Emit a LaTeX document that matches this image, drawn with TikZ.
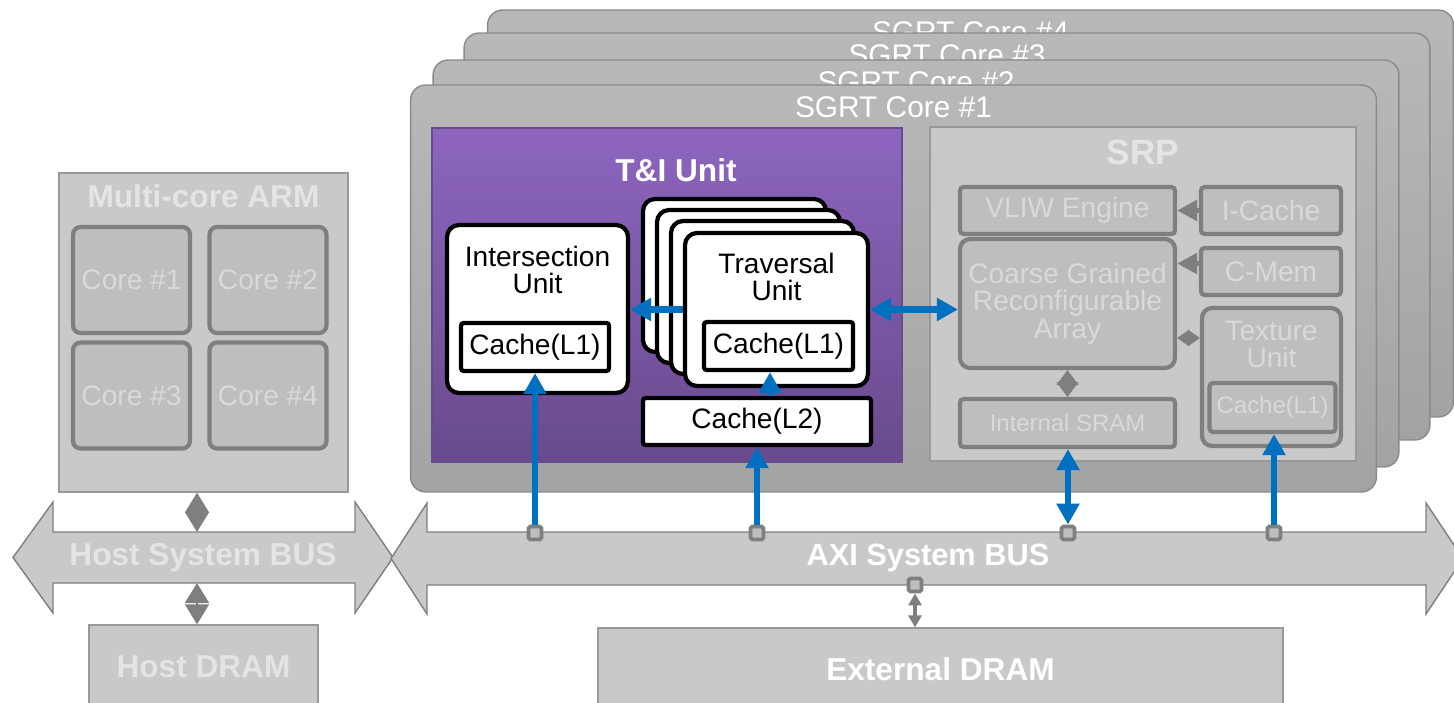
\documentclass[tikz,border=0pt]{standalone}
\usepackage{fontspec}
\setmainfont{Liberation Sans}
\usetikzlibrary{positioning,arrows.meta}

\definecolor{cardtop}{HTML}{B8B8B8}
\definecolor{coregray}{HTML}{A3A3A3}
\definecolor{coreedge}{HTML}{8A8A8A}
\definecolor{panelgray}{HTML}{C9C9C9}
\definecolor{boxgray}{HTML}{BEBEBE}
\definecolor{edgegray}{HTML}{7F7F7F}
\definecolor{fadetext}{HTML}{D9D9D9}
\definecolor{lighttext}{HTML}{E4E4E4}
\definecolor{tipurpletop}{HTML}{8D65BF}
\definecolor{tipurplebot}{HTML}{694A8D}
\definecolor{linkblue}{HTML}{0070C0}

\begin{document}
\begin{tikzpicture}[
    x=0.02cm, y=-0.02cm,
    card/.style={draw=coreedge, line width=0.8pt, top color=cardtop, bottom color=coregray,
      rounded corners=0.3cm, minimum width=19.32cm, minimum height=8.14cm},
    cardtitle/.style={text=white, inner sep=0, font=\fontsize{17}{20}\selectfont},
    tiunit/.style={draw=tipurplebot, line width=0.8pt, top color=tipurpletop, bottom color=tipurplebot,
      minimum width=9.4cm, minimum height=6.68cm},
    whitebox/.style={draw=black, fill=white, line width=2.4pt, rounded corners=0.24cm},
    cachebox/.style={draw=black, fill=white, line width=2.4pt, rounded corners=1.5pt, inner sep=0,
      minimum height=0.96cm, font=\fontsize{16}{19}\selectfont},
    unitlabel/.style={inner sep=0, align=center, font=\fontsize{16}{15.5}\selectfont},
    panel/.style={fill=panelgray, draw=edgegray!80, line width=0.8pt},
    srpbox/.style={draw=edgegray, fill=boxgray, line width=2.4pt, rounded corners=2pt, inner sep=0,
      text=fadetext, align=center, font=\fontsize{16}{15.5}\selectfont},
    armcore/.style={draw=edgegray, fill=boxgray, line width=2.4pt, rounded corners=0.15cm, inner sep=0,
      text=fadetext, minimum width=2.34cm, minimum height=2.12cm, font=\fontsize{16}{19}\selectfont},
    headtext/.style={inner sep=0, font=\bfseries\fontsize{18}{20}\selectfont},
    bus/.style={fill=panelgray, draw=edgegray, line width=0.8pt},
    port/.style={draw=edgegray, fill=boxgray, line width=2.2pt, minimum size=0.26cm, inner sep=0,
      rounded corners=1pt},
    bluearrow/.style={draw=linkblue, line width=3.6pt, -{Triangle[length=0.42cm,width=0.44cm]}},
    bluedouble/.style={bluearrow, {Triangle[length=0.42cm,width=0.44cm]}-{Triangle[length=0.42cm,width=0.44cm]}},
    graylink/.style={draw=edgegray, line width=3pt, -{Triangle[length=0.4cm,width=0.4cm]}},
    graystar/.style={draw=edgegray, line width=2pt, {Triangle[length=0.24cm,width=0.32cm]}-{Triangle[length=0.24cm,width=0.32cm]}},
    graydiamond/.style={draw=edgegray, line width=1pt, {Triangle[length=0.3cm,width=0.44cm]}-{Triangle[length=0.3cm,width=0.44cm]}},
    hostdiamond/.style={draw=edgegray, line width=1pt, {Triangle[length=0.4cm,width=0.48cm]}-{Triangle[length=0.4cm,width=0.48cm]}},
    graythin/.style={draw=edgegray, line width=2pt, {Triangle[length=0.24cm,width=0.26cm]}-{Triangle[length=0.24cm,width=0.26cm]}}
  ]
  \useasboundingbox (0,0) rectangle (1454,703);

  % stacked SGRT cores, back to front
  \foreach \cn/\cx/\cy in {4/970.5/213.5, 3/947/236.5, 2/916/263.5, 1/893.5/288.5} {
    \node[card] (core\cn) at (\cx,\cy) {};
    \node[cardtitle, below=0.24cm of core\cn.north] (ctitle\cn) {SGRT Core \#\cn};
  }

  % T&I unit
  \node[tiunit] (ti) at (667,295) {};
  \node[headtext, text=white] (tititle) at (676,170) {T\&I Unit};
  \node[whitebox, minimum width=3.62cm, minimum height=3.36cm] (isect) at (537.5,309) {};
  \node[unitlabel, below=0.46cm of isect.north] (isectlbl) {Intersection\\Unit};
  \node[cachebox, minimum width=2.96cm] (ic1) at (535,347) {Cache(L1)};
  \foreach \cn/\cx/\cy in {4/734.5/275.5, 3/748.5/286.5, 2/762.5/297.5, 1/776.5/309.5} {
    \node[whitebox, minimum width=3.66cm, minimum height=3.06cm] (trav\cn) at (\cx,\cy) {};
  }
  \node[unitlabel, below=0.44cm of trav1.north] (travlbl) {Traversal\\Unit};
  \node[cachebox, minimum width=2.98cm] (tc1) at (778.5,346) {Cache(L1)};
  \node[cachebox, minimum width=4.56cm, minimum height=0.94cm] (l2) at (757,421.5) {Cache(L2)};

  % SRP
  \node[panel, minimum width=8.52cm, minimum height=6.68cm] (srp) at (1143,294) {};
  \node[headtext, text=lighttext, font=\bfseries\fontsize{20}{22}\selectfont, below=0.26cm of srp.north] (srptitle) {SRP};
  \node[srpbox, minimum width=4.3cm, minimum height=0.94cm] (vliw) at (1067.5,210.5) {VLIW Engine};
  \node[srpbox, minimum width=2.8cm, minimum height=0.94cm] (icache) at (1271,210.5) {I-Cache};
  \node[srpbox, minimum width=2.8cm, minimum height=0.94cm] (cmem) at (1271,271.5) {C-Mem};
  \node[srpbox, rounded corners=0.2cm, minimum width=4.3cm, minimum height=2.58cm] (cgra) at (1067.5,303.5) {Coarse Grained\\Reconfigurable\\Array};
  \node[srpbox, rounded corners=0.2cm, minimum width=2.78cm, minimum height=2.76cm] (texture) at (1271.5,377) {};
  \node[unitlabel, text=fadetext, below=0.3cm of texture.north] (texlbl) {Texture\\Unit};
  \node[srpbox, minimum width=2.52cm, minimum height=0.98cm, font=\fontsize{13.6}{16}\selectfont] (txc) at (1272.5,407.5) {Cache(L1)};
  \node[srpbox, minimum width=4.3cm, minimum height=0.96cm, font=\fontsize{13.6}{16}\selectfont] (sram) at (1067.5,423) {Internal SRAM};

  % host side
  \node[panel, minimum width=5.78cm, minimum height=6.38cm] (arm) at (203.5,332.5) {};
  \node[headtext, text=lighttext, below=0.24cm of arm.north] (armtitle) {Multi-core ARM};
  \node[armcore] (acore1) at (131.5,280) {Core \#1};
  \node[armcore] (acore2) at (268,280) {Core \#2};
  \node[armcore] (acore3) at (131.5,395.5) {Core \#3};
  \node[armcore] (acore4) at (268,395.5) {Core \#4};
  \node[panel, headtext, text=lighttext, minimum width=4.58cm, minimum height=1.66cm] (hostdram) at (203.5,666.5) {Host DRAM};
  \node[panel, headtext, text=white, minimum width=13.7cm, minimum height=1.66cm] (extdram) at (940.5,669.5) {External DRAM};

  % buses
  \draw[bus] (13,557.5) -- (53,502) -- (53,532) -- (355,532) -- (355,502) -- (393,557.5)
    -- (355,613) -- (355,583) -- (53,583) -- (53,613) -- cycle;
  \draw[bus] (391,558.5) -- (427,503) -- (427,532) -- (1426,532) -- (1426,503) -- (1463,558.5)
    -- (1426,614) -- (1426,585) -- (427,585) -- (427,614) -- cycle;
  \node[headtext, text=lighttext] (hostbus) at (203,557.5) {Host System BUS};
  \node[headtext, text=white, font=\bfseries\fontsize{17.5}{20}\selectfont] (axibus) at (928,558) {AXI System BUS};
  \coordinate (hbtop) at (203,532);
  \coordinate (hbbot) at (203,583);

  % gray links
  \draw[graylink] (icache) -- (vliw);
  \draw[graylink] ([yshift=0.16cm]cmem.west) -- ([yshift=0.16cm]cmem.west -| cgra.east);
  \draw[graystar] ([yshift=0.78cm]texture.west) -- ([yshift=0.78cm]texture.west -| cgra.east);
  \draw[graydiamond] (cgra) -- (sram);
  \draw[hostdiamond] ([xshift=-0.13cm]arm.south) -- ([xshift=-0.13cm]arm.south |- hbtop);
  \draw[hostdiamond] ([xshift=-0.13cm]hostdram.north |- hbbot) -- ([xshift=-0.13cm]hostdram.north);

  % ports on the AXI bus
  \node[port] (p1) at (535,533) {};
  \node[port] (p2) at (757,533) {};
  \node[port] (p3) at (1068,533) {};
  \node[port] (p4) at (1274,533) {};
  \node[port] (p5) at (915,585) {};

  % blue links
  \draw[bluearrow] (trav1.west) -- (trav1.west -| isect.east);
  \draw[bluedouble] (trav1.east) -- (trav1.east -| cgra.west);
  \draw[bluearrow] (p1.north) -- (ic1.south);
  \draw[bluearrow] (p2.north) -- (l2.south);
  \draw[bluearrow] ([xshift=-0.17cm]tc1.south |- l2.north) -- ([xshift=-0.17cm]tc1.south);
  \draw[bluedouble] (p3.north) -- (p3.north |- sram.south);
  \draw[bluearrow] (p4.north) -- (p4.north |- txc.south);
  \draw[graythin] (p5.south) -- (p5.south |- extdram.north);
\end{tikzpicture}
\end{document}
